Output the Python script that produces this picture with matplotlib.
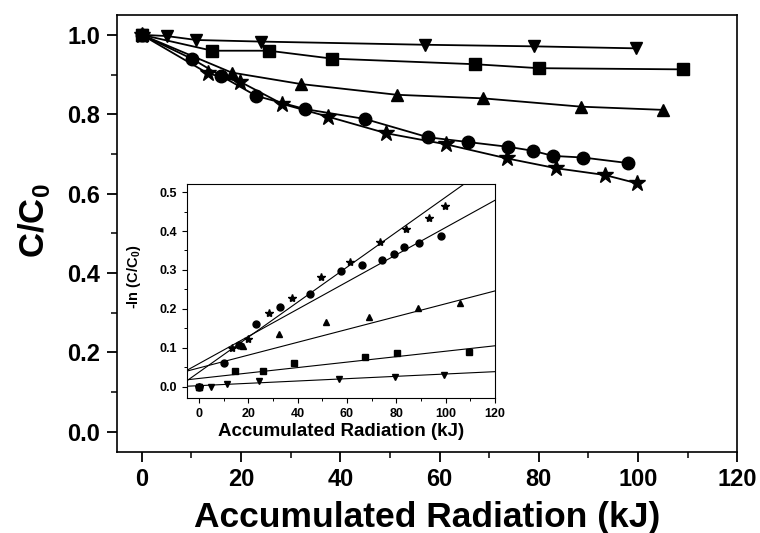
import numpy as np
import matplotlib
matplotlib.use("Agg")
import matplotlib.pyplot as plt
from matplotlib.ticker import MultipleLocator

plt.rcParams['font.family'] = ['Liberation Sans', 'DejaVu Sans']
plt.rcParams['font.weight'] = 'bold'
plt.rcParams['mathtext.fontset'] = 'custom'
plt.rcParams['mathtext.rm'] = 'Liberation Sans:bold'
plt.rcParams['mathtext.bf'] = 'Liberation Sans:bold'

# ---- main plot data (C/C0 vs accumulated radiation) ----
x_down = [0, 5, 11, 24, 57, 79, 99.5]
y_down = [1.0, 0.997, 0.987, 0.983, 0.975, 0.971, 0.966]
x_sq = [0, 14.2, 25.6, 38.4, 67.1, 80, 109.1]
y_sq = [1.0, 0.960, 0.960, 0.940, 0.926, 0.916, 0.913]
x_tri = [0, 18.1, 32.1, 51.4, 68.8, 88.6, 105]
y_tri = [1.0, 0.905, 0.876, 0.849, 0.840, 0.819, 0.811]
x_circ = [0, 10.2, 15.9, 23.1, 32.9, 45.0, 57.7, 65.7, 73.8, 78.8, 82.9, 88.9, 98]
y_circ = [1.0, 0.939, 0.897, 0.846, 0.813, 0.788, 0.742, 0.730, 0.718, 0.708, 0.695, 0.691, 0.677]
x_star = [0, 13.3, 19.8, 28.3, 37.5, 49.3, 61.4, 73.5, 83.5, 93.3, 99.8]
y_star = [1.0, 0.903, 0.882, 0.826, 0.794, 0.752, 0.724, 0.689, 0.664, 0.647, 0.626]

# ---- inset data (-ln(C/C0)) ----
ix_down = [0, 5.1, 11.5, 24.3, 56.9, 79.3, 99.5]
iy_down = [0, 0, 0.007, 0.014, 0.020, 0.025, 0.029]
ix_sq = [0, 14.8, 25.9, 38.7, 67.4, 80.2, 109.5]
iy_sq = [0, 0.041, 0.039, 0.060, 0.075, 0.086, 0.088]
ix_tri = [0, 17.9, 32.6, 51.6, 69, 88.7, 106]
iy_tri = [0, 0.104, 0.136, 0.165, 0.179, 0.202, 0.215]
ix_circ = [0, 10.1, 16.2, 23.3, 33, 45.2, 57.7, 66, 74.2, 78.9, 83.2, 89, 98.2]
iy_circ = [0, 0.061, 0.106, 0.162, 0.204, 0.238, 0.298, 0.312, 0.326, 0.342, 0.360, 0.369, 0.388]
ix_star = [0, 13.5, 20, 28.6, 37.8, 49.6, 61.3, 73.5, 83.9, 93.3, 99.8]
iy_star = [0, 0.099, 0.122, 0.189, 0.228, 0.283, 0.320, 0.373, 0.406, 0.433, 0.463]

# linear fits in inset (order: down, square, triangle, circle, star)
fit_slope = [0.0003, 0.0007, 0.00165, 0.0035, 0.0045]
fit_icpt = [0.0025, 0.021, 0.048, 0.059, 0.037]
fit_range = [-5, 120]

fig = plt.figure(figsize=(7.6, 5.33), dpi=100)
ax = fig.add_axes([0.1539, 0.1525, 0.8162, 0.8194])

series = [
    (x_down, y_down, 'v', 9),
    (x_sq, y_sq, 's', 8),
    (x_tri, y_tri, '^', 9),
    (x_circ, y_circ, 'o', 9),
    (x_star, y_star, '*', 12),
]
for xs, ys, m, ms in series:
    ax.plot(xs, ys, color='black', lw=1.3, marker=m, ms=ms, mfc='black', mec='black')

ax.set_xlim(-5, 120)
ax.set_ylim(-0.05, 1.05)
ax.xaxis.set_major_locator(MultipleLocator(20))
ax.xaxis.set_minor_locator(MultipleLocator(10))
ax.yaxis.set_major_locator(MultipleLocator(0.2))
ax.yaxis.set_minor_locator(MultipleLocator(0.1))
ax.yaxis.set_major_formatter(plt.FormatStrFormatter('%.1f'))
ax.tick_params(which='major', direction='out', length=7, width=1.3, labelsize=17, pad=5)
ax.tick_params(which='minor', direction='out', length=4, width=1.1)
for s in ax.spines.values():
    s.set_linewidth(1.2)
ax.set_xlabel('Accumulated Radiation (kJ)', fontsize=25.5, fontweight='bold', labelpad=7)
ax.set_ylabel(r'C/C$_{\mathbf{0}}$', fontsize=25, fontweight='bold')
ax.yaxis.set_label_coords(-0.105, 0.53)

# ---- inset ----
ins = fig.add_axes([0.2455, 0.2527, 0.4058, 0.4015])
ins_series = [
    (ix_down, iy_down, 'v', 5),
    (ix_sq, iy_sq, 's', 4.5),
    (ix_tri, iy_tri, '^', 5),
    (ix_circ, iy_circ, 'o', 5),
    (ix_star, iy_star, '*', 6),
]
for xs, ys, m, ms in ins_series:
    ins.plot(xs, ys, ls='none', marker=m, ms=ms, mfc='black', mec='black')
for k, b in zip(fit_slope, fit_icpt):
    xf = np.array(fit_range, dtype=float)
    ins.plot(xf, b + k * xf, color='black', lw=0.8)

ins.set_xlim(-5, 120)
ins.set_ylim(-0.03, 0.52)
ins.xaxis.set_major_locator(MultipleLocator(20))
ins.xaxis.set_minor_locator(MultipleLocator(10))
ins.yaxis.set_major_locator(MultipleLocator(0.1))
ins.yaxis.set_minor_locator(MultipleLocator(0.05))
ins.yaxis.set_major_formatter(plt.FormatStrFormatter('%.1f'))
ins.tick_params(which='major', direction='out', length=3.5, width=0.8, labelsize=9)
ins.tick_params(which='minor', direction='out', length=2, width=0.7)
for s in ins.spines.values():
    s.set_linewidth(0.8)
ins.set_xlabel('Accumulated Radiation (kJ)', fontsize=13.5, fontweight='bold', labelpad=2)
ins.set_ylabel(r'-ln (C/C$_{\mathbf{0}}$)', fontsize=10.5, fontweight='bold')
ins.yaxis.set_label_coords(-0.14, 0.57)

fig.savefig('out.png', dpi=100)
